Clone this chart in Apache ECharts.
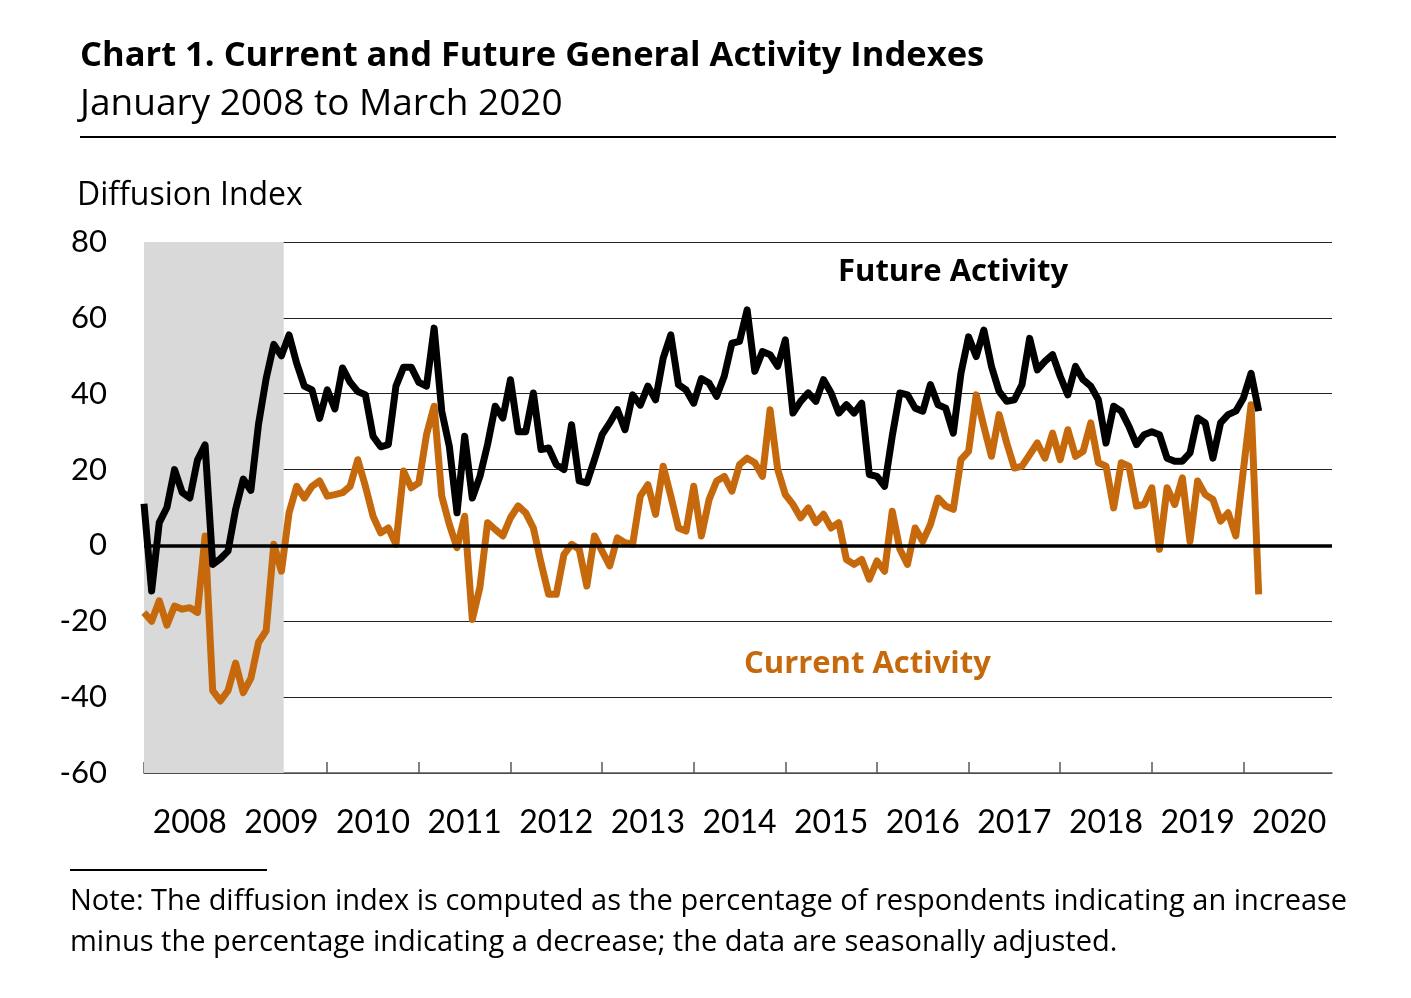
<!DOCTYPE html>
<html>
<head>
<meta charset="utf-8">
<script src="https://cdn.jsdelivr.net/npm/echarts@6/dist/echarts.min.js"></script>
<style>
  html, body { margin: 0; padding: 0; background: #fff; }
  #main { width: 1411px; height: 998px; }
</style>
</head>
<body>
<div id="main"></div>
<script>
// monthly values, Jan 2008 .. Mar 2020 (index 0 = Jan 2008)
var futureActivity = [
  11, -12, 6, 10, 20, 14, 12.5, 22.5, 26.5, -5, -3.5, -1.5,
  9.5, 17.5, 14.5, 32, 44, 53, 50, 55.5, 48, 42, 41, 33.5,
  41, 36, 46.8, 43, 40.6, 39.7, 28.8, 26, 26.6, 42, 47, 47,
  43, 42, 57.3, 35.4, 26, 8.6, 28.8, 12.5, 18.2, 26.6, 36.7, 33.6,
  43.7, 30, 30, 40.2, 25.3, 25.7, 21.3, 20, 31.8, 17, 16.5, 22.6,
  29.2, 32.3, 35.8, 30.5, 39.7, 37, 42, 38.4, 49.4, 55.5, 42.4, 41,
  37.5, 44, 42.8, 39.3, 44.6, 53.3, 53.8, 62.1, 45.9, 51.1, 50.3, 47.2,
  54.2, 34.9, 38, 40.2, 38, 43.7, 40.2, 34.9, 37.1, 34.9, 37.5, 18.7,
  18.2, 15.6, 28.8, 40.2, 39.7, 36.2, 35.4, 42.4, 37.1, 36.2, 29.6, 45.4,
  55, 49.8, 56.8, 47.2, 40.6, 38, 38.4, 42.4, 54.6, 46.3, 48.5, 50.3,
  44.6, 39.7, 47.2, 43.7, 42, 38.4, 27, 36.7, 35.4, 31.4, 26.6, 29.2,
  30, 29.2, 23, 22.2, 22.2, 24.4, 33.6, 32.3, 23, 32.3, 34.5, 35.4,
  38.9, 45.4, 35.4
];
var currentActivity = [
  -17.7, -20, -14.6, -21, -16, -16.8, -16.4, -17.7, 2.5, -38.3, -41, -38.3,
  -31, -38.8, -35, -25.6, -22.5, 0.3, -6.8, 8.6, 15.6, 12.5, 15.6, 17,
  13, 13.4, 13.9, 15.6, 22.6, 15.6, 7.7, 3.3, 4.6, 0.3, 19.6, 15.2,
  16.5, 29.2, 36.7, 13, 5.5, -0.6, 7.7, -19.5, -11, 6, 4.2, 2.5,
  7.3, 10.4, 8.6, 4.6, -4.6, -12.9, -12.9, -2.4, 0.3, -1, -10.7, 2.5,
  -1.5, -5.4, 2, 0.7, 0.3, 13, 16, 8.2, 20.9, 13, 4.6, 3.8,
  15.6, 2.5, 12, 17, 18.2, 14.3, 21.3, 23, 21.8, 18.2, 35.8, 20,
  13.4, 10.8, 7.3, 9.9, 6, 8.2, 4.6, 6, -3.7, -5, -3.7, -8.9,
  -4.1, -6.8, 9, -1, -5, 4.6, 1.1, 5.5, 12.5, 10.4, 9.5, 22.6,
  24.8, 39.7, 31.4, 23.5, 34.5, 27, 20.4, 20.9, 23.9, 27, 23, 29.6,
  22.6, 30.5, 23.5, 24.8, 32.3, 21.8, 20.9, 9.9, 21.8, 20.9, 10.4, 10.8,
  15.2, -1, 15.2, 10.8, 17.8, 1.1, 17, 13.4, 12.1, 6.4, 8.6, 2.5,
  20, 37.1, -12.9
];
var yearLabels = ['2008', '2009', '2010', '2011', '2012', '2013', '2014',
  '2015', '2016', '2017', '2018', '2019', '2020'];
var recession = [0, 18.3]; // shaded months (recession through June 2009)

var dom = document.getElementById('main');
var myChart = echarts.init(dom);
var option = null;

var AXFONT = 'Lato';
var FONT = '"Open Sans"';
var ORANGE = '#C5690C';

function toPairs(arr) {
  var res = [];
  for (var i = 0; i < arr.length; i++) {
    res.push([i, arr[i]]);
  }
  return res;
}

var yearTicks = [];
var yearMids = [];
for (var k = 0; k < yearLabels.length; k++) {
  yearTicks.push(k * 12);
  yearMids.push(k * 12 + 6);
}

option = {
  backgroundColor: '#fff',
  animation: false,
  textStyle: { fontFamily: AXFONT },
  grid: { left: 144, right: 79, top: 242, bottom: 225 },
  xAxis: {
    type: 'value',
    min: 0,
    max: 155.6,
    splitLine: { show: false },
    axisLine: { show: true, onZero: false, lineStyle: { color: '#595959', width: 1.5 } },
    axisTick: {
      show: true,
      inside: true,
      length: 11,
      customValues: yearTicks,
      lineStyle: { color: '#595959', width: 1.5 }
    },
    axisLabel: {
      show: true,
      customValues: yearMids,
      margin: 34,
      fontSize: 32,
      fontFamily: AXFONT,
      color: '#000',
      formatter: function (v) {
        return yearLabels[Math.round((v - 6) / 12)];
      }
    }
  },
  yAxis: {
    type: 'value',
    min: -60,
    max: 80,
    interval: 20,
    axisLine: { show: false },
    axisTick: { show: false },
    splitLine: { show: true, lineStyle: { color: '#222', width: 1.2 } },
    axisLabel: {
      margin: 37,
      fontSize: 31,
      fontFamily: AXFONT,
      color: '#000'
    }
  },
  series: [
    {
      name: 'shade',
      type: 'line',
      data: [],
      z: 1,
      markArea: {
        silent: true,
        itemStyle: { color: '#D9D9D9' },
        data: [[{ xAxis: recession[0] }, { xAxis: recession[1] }]]
      }
    },
    {
      name: 'Current Activity',
      type: 'line',
      data: toPairs(currentActivity),
      showSymbol: false,
      z: 3,
      lineStyle: { color: ORANGE, width: 7, join: 'round' },
      itemStyle: { color: ORANGE }
    },
    {
      name: 'Future Activity',
      type: 'line',
      data: toPairs(futureActivity),
      showSymbol: false,
      z: 4,
      lineStyle: { color: '#000', width: 7, join: 'round' },
      itemStyle: { color: '#000' },
      markLine: {
        silent: true,
        symbol: 'none',
        label: { show: false },
        lineStyle: { color: '#000', width: 3.5, type: 'solid' },
        data: [{ yAxis: 0 }]
      }
    }
  ],
  graphic: [
    {
      type: 'text', left: 80, top: 39,
      style: { text: 'Chart 1. Current and Future General Activity Indexes',
        font: 'bold 34.5px ' + FONT, fill: '#000' }
    },
    {
      type: 'text', left: 80, top: 86,
      style: { text: 'January 2008 to March 2020',
        font: '37px ' + FONT, fill: '#000' }
    },
    {
      type: 'rect', shape: { x: 80, y: 136, width: 1256, height: 2 },
      style: { fill: '#000' }
    },
    {
      type: 'text', left: 77, top: 180,
      style: { text: 'Diffusion Index', font: '32px ' + FONT, fill: '#000' }
    },
    {
      type: 'text', left: 838, top: 257,
      style: { text: 'Future Activity', font: 'bold 31px ' + FONT, fill: '#000' }
    },
    {
      type: 'text', left: 744, top: 649,
      style: { text: 'Current Activity', font: 'bold 31px ' + FONT, fill: ORANGE }
    },
    {
      type: 'rect', shape: { x: 70, y: 869, width: 197, height: 2 },
      style: { fill: '#000' }
    },
    {
      type: 'text', left: 70, top: 887,
      style: { text: 'Note: The diffusion index is computed as the percentage of respondents indicating an increase',
        font: '29px ' + FONT, fill: '#000' }
    },
    {
      type: 'text', left: 70, top: 928,
      style: { text: 'minus the percentage indicating a decrease; the data are seasonally adjusted.',
        font: '29px ' + FONT, fill: '#000' }
    }
  ]
};

if (option && typeof option === "object") {
  myChart.setOption(option, true);
}
</script>
</body>
</html>
